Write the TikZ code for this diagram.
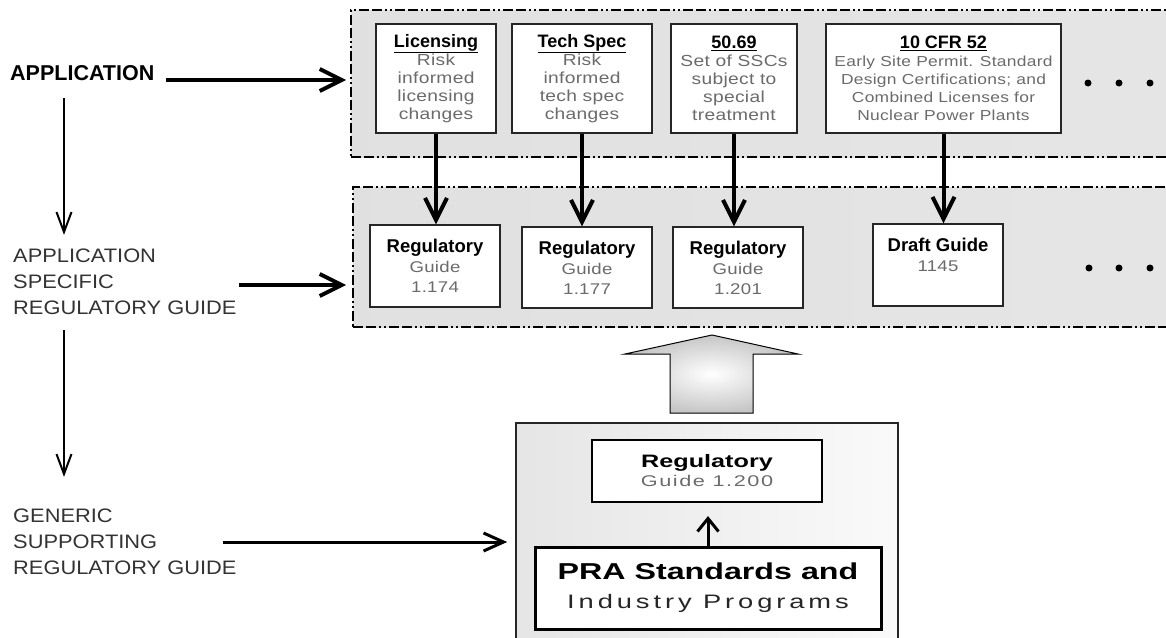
\documentclass[tikz,border=0pt]{standalone}
\usepackage{fontspec}
\setmainfont{Liberation Sans}
\newfontfamily\wide[FakeStretch=1.2,LetterSpace=2]{Liberation Sans}
\newfontfamily\lowfont[FakeStretch=1.4]{Liberation Sans}
\newfontfamily\labfont[FakeStretch=1.12]{Liberation Sans}
\usetikzlibrary{arrows.meta}
\definecolor{txtgray}{gray}{0.42}
\definecolor{labgray}{gray}{0.2}
\newcommand{\headtxt}[2]{{\normalfont\bfseries\color{black}\fontsize{#1}{#1}\selectfont#2}}
\tikzset{
	band/.style={draw=black, line width=1.6pt,
		dash pattern=on 10pt off 3pt on 10pt off 3pt on 2pt off 3pt on 2pt off 3pt,
		left color=gray!24, middle color=gray!6, right color=gray!20},
	topbox/.style={draw=black!85, line width=1.3pt, fill=white, minimum width=#1, minimum height=109pt,
		inner sep=0pt, align=center, text=txtgray, font=\wide\fontsize{16}{18}\selectfont},
	guidebox/.style={draw=black!85, line width=1.3pt, fill=white, minimum width=130pt, minimum height=82pt,
		inner sep=0pt, align=center, text=txtgray, font=\wide\fontsize{15.5}{20}\selectfont},
	sidelabel/.style={anchor=west, inner sep=0pt, align=left, text=labgray, font=\labfont\fontsize{19.5}{26}\selectfont},
	barrow/.style={line width=4pt, -{Straight Barb[length=22pt,width=22pt]}},
	tarrow/.style={line width=2pt, -{Straight Barb[length=20pt,width=15pt]}},
	marrow/.style={line width=3pt, -{Straight Barb[length=20pt,width=18pt]}}
}
\begin{document}
\begin{tikzpicture}[x=1pt,y=-1pt]
	\useasboundingbox (0,0) rectangle (1166,637);
	% background bands
	\node[band, minimum width=824pt, minimum height=147pt] (apps) at (763,83.5) {};
	\node[band, minimum width=822pt, minimum height=140pt] (guides) at (764,257) {};
	\node[draw=black!85, line width=1.6pt, left color=gray!20, right color=gray!4,
		minimum width=382pt, minimum height=237pt] (generic) at (707,541.5) {};

	% applications
	\node[topbox=120pt] (lic) at (436,78.5) {\headtxt{18}{\underline{Licensing}}\\Risk\\informed\\licensing\\changes};
	\node[topbox=140pt] (tech) at (582,78.5) {\headtxt{18}{\underline{Tech Spec}}\\Risk\\informed\\tech spec\\changes};
	\node[topbox=126pt] (ssc) at (734,78.5) {\headtxt{18}{\underline{50.69}}\\Set of SSCs\\subject to\\special\\treatment};
	\node[topbox=235pt, font=\wide\fontsize{14.5}{18}\selectfont] (cfr) at (943.5,78.5)
		{\headtxt{18}{\underline{10 CFR 52}}\\Early Site Permit. Standard\\Design Certifications; and\\Combined Licenses for\\Nuclear Power Plants};
	\foreach \x in {1088,1119,1150}
		\fill (\x,83) circle (3.5pt);

	% application specific guides
	\node[guidebox] (rg174) at (435,266) {\headtxt{18.5}{Regulatory}\\Guide\\1.174};
	\node[guidebox, minimum height=81pt] (rg177) at (587,267.5) {\headtxt{18.5}{Regulatory}\\Guide\\1.177};
	\node[guidebox, minimum height=81pt] (rg201) at (738,267.5) {\headtxt{18.5}{Regulatory}\\Guide\\1.201};
	\node[guidebox] (draft) at (938,265) {\headtxt{18.5}{Draft Guide}\\1145\\~};
	\foreach \x in {1089,1119,1150}
		\fill (\x,268) circle (3.5pt);

	\draw[barrow] (lic.south) -- (lic.south |- rg174.north);
	\draw[barrow] (tech.south) -- (tech.south |- rg177.north);
	\draw[barrow] (ssc.south) -- (ssc.south |- rg201.north);
	\draw[barrow] (cfr.south) -- (cfr.south |- draft.north);

	% generic guide
	\node[draw=black, line width=2.2pt, fill=white, minimum width=230pt, minimum height=62pt, inner sep=0pt,
		align=center, text=txtgray, font=\lowfont\fontsize{15.5}{19}\selectfont] (rg200) at (707,471)
		{{\bfseries\color{black}\fontsize{18}{18}\selectfont Regulatory}\\\addfontfeature{LetterSpace=10}Guide 1.200};
	\node[draw=black, line width=3pt, fill=white, minimum width=346pt, minimum height=82pt, inner sep=0pt,
		align=center, text=black!85, font=\lowfont\fontsize{19.5}{29}\selectfont] (pra) at (708,588)
		{{\bfseries\color{black}\fontsize{23}{23}\selectfont PRA Standards and}\\\addfontfeature{LetterSpace=20}Industry Programs};
	\draw[marrow, shorten >=13pt, -{Straight Barb[length=13pt,width=21pt]}] (pra.north) -- (pra.north |- rg200.south);

	\shade[inner color=white, outer color=gray!45, draw=black, line width=1pt]
		(670,413) -- (670,354) -- (625,354) -- (712,335) -- (798,354) -- (753,354) -- (753,413) -- cycle;

	% left labels
	\node[anchor=west, inner sep=0pt, font=\bfseries\fontsize{21.5}{24}\selectfont] (app) at (10,73.5) {APPLICATION};
	\node[sidelabel] (spec) at (13,282) {APPLICATION\\SPECIFIC\\REGULATORY GUIDE};
	\node[sidelabel] (gen) at (13,542) {GENERIC\\SUPPORTING\\REGULATORY GUIDE};

	\draw[barrow, shorten >=4pt] ([xshift=11pt,yshift=-6.5pt]app.east) -- ([yshift=-6.5pt]app.east -| apps.west);
	\draw[barrow, shorten >=6pt] ([xshift=2pt,yshift=-3pt]spec.east) -- ([yshift=-3pt]spec.east -| guides.west);
	\draw[marrow, shorten >=8pt] ([xshift=-14pt]gen.east) -- (gen.east -| generic.west);
	\draw[tarrow] ([xshift=54pt,yshift=-17pt]app.south west) -- ([xshift=51pt,yshift=14pt]spec.north west);
	\draw[tarrow] ([xshift=51pt,yshift=-15pt]spec.south west) -- ([xshift=51pt,yshift=32pt]gen.north west);
\end{tikzpicture}
\end{document}
